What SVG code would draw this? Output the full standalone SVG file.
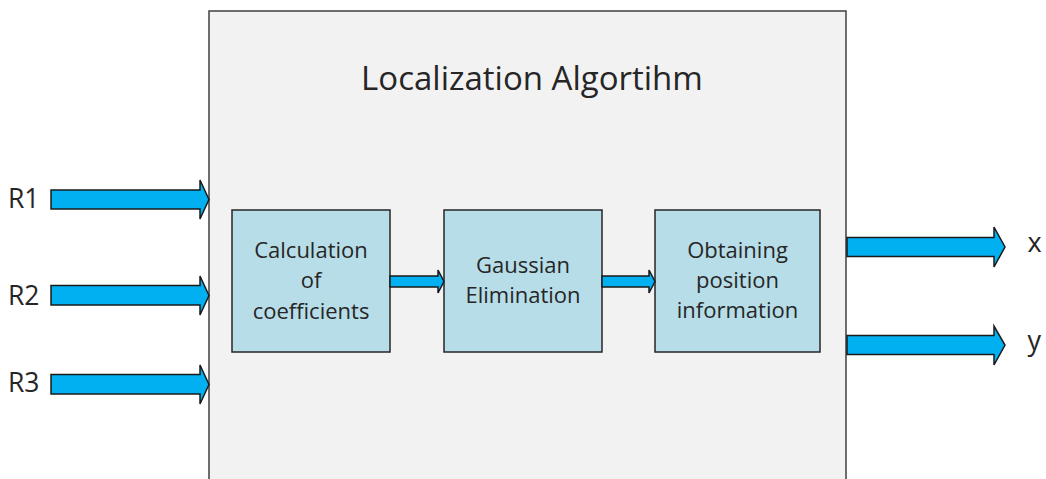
<svg xmlns="http://www.w3.org/2000/svg" width="1046" height="479" viewBox="0 0 1046 479">
  <style>
    text { font-family: "Open Sans", "Liberation Sans", sans-serif; fill: #262626; }
    .title { font-size: 33px; text-anchor: middle; }
    .lbl { font-size: 22px; text-anchor: middle; }
    .io { font-size: 26.5px; }
    .out { font-size: 27px; }
    .step { fill: #b7dde8; stroke: #262626; stroke-width: 1.5; }
    .arrow { fill: #00b0f0; stroke: #1a1a1a; stroke-width: 1.5; stroke-linejoin: miter; }
  </style>
  <rect width="1046" height="479" fill="#ffffff"/>

  <!-- enclosing algorithm block -->
  <g id="algorithm">
    <rect x="209" y="11" width="637" height="480" fill="#f2f2f2" stroke="#404040" stroke-width="1.5"/>
    <text class="title" x="532" y="90">Localization Algortihm</text>
  </g>

  <!-- processing steps -->
  <g id="step-coefficients">
    <rect class="step" x="232" y="210" width="158" height="142"/>
    <text class="lbl" x="311" y="258">Calculation</text>
    <text class="lbl" x="311" y="288">of</text>
    <text class="lbl" x="311" y="319">coefficients</text>
  </g>
  <g id="step-gaussian">
    <rect class="step" x="444" y="210" width="158" height="142"/>
    <text class="lbl" x="523" y="273">Gaussian</text>
    <text class="lbl" x="523" y="303">Elimination</text>
  </g>
  <g id="step-position">
    <rect class="step" x="655" y="210" width="165" height="142"/>
    <text class="lbl" x="737.5" y="258">Obtaining</text>
    <text class="lbl" x="737.5" y="288">position</text>
    <text class="lbl" x="737.5" y="318">information</text>
  </g>

  <!-- inputs and outputs -->
  <g id="input-r1"><text class="io" x="8" y="208">R1</text></g>
  <g id="input-r2"><text class="io" x="8" y="305">R2</text></g>
  <g id="input-r3"><text class="io" x="8" y="392">R3</text></g>
  <g id="output-x"><text class="out" x="1027.5" y="252">x</text></g>
  <g id="output-y"><text class="out" x="1027.5" y="350">y</text></g>

  <!-- block arrows -->
  <g id="connectors">
    <polygon class="arrow" points="51,190 200,190 200,180 209,199.5 200,219 200,209 51,209"/>
    <polygon class="arrow" points="51,285.5 200,285.5 200,276 209,295.5 200,315 200,305 51,305"/>
    <polygon class="arrow" points="51,374.5 200,374.5 200,365 209,384.5 200,404 200,394 51,394"/>
    <polygon class="arrow" points="390,276 438,276 438,270 444,281.5 438,293 438,287 390,287"/>
    <polygon class="arrow" points="602,276 649,276 649,270 655,281.5 649,293 649,287 602,287"/>
    <polygon class="arrow" points="847,237.5 994,237.5 994,227 1005,247 994,267 994,256.5 847,256.5"/>
    <polygon class="arrow" points="847,335.5 994,335.5 994,326 1005,345 994,365 994,354.5 847,354.5"/>
  </g>
</svg>
